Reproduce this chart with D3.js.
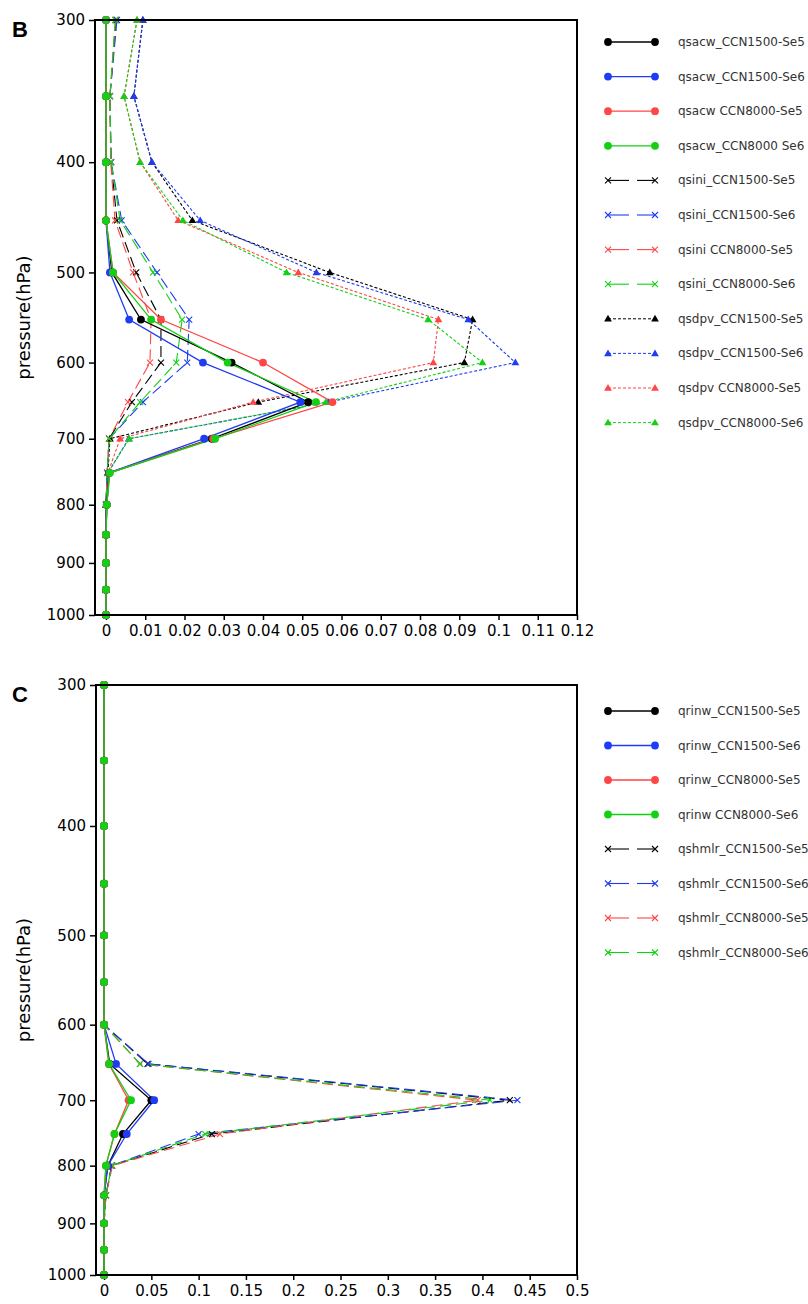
<!DOCTYPE html>
<html>
<head>
<meta charset="utf-8">
<script src="https://cdn.jsdelivr.net/npm/d3@7"></script>
<style>
body { margin: 0; background: #fff; }
svg { display: block; }
</style>
</head>
<body>
<div id="chart"></div>
<script>
var levels = [300, 350, 400, 450, 500, 550, 600, 650, 700, 750, 800, 850, 900, 950, 1000];
var pressureTicks = [300, 400, 500, 600, 700, 800, 900, 1000];

// panel B
var xTicksB = [0, 0.01, 0.02, 0.03, 0.04, 0.05, 0.06, 0.07, 0.08, 0.09, 0.1, 0.11, 0.12];
var qsacw_1500_Se5 = [0, 0, 0, 0, 0.0015, 0.0089, 0.032, 0.0515, 0.027, 0.0008, 0.0002, 0, 0, 0, 0];
var qsacw_1500_Se6 = [0, 0, 0, 0, 0.001, 0.0059, 0.0247, 0.0495, 0.025, 0.0008, 0.0002, 0, 0, 0, 0];
var qsacw_8000_Se5 = [0, 0, 0, 0, 0.0018, 0.014, 0.040, 0.0577, 0.0273, 0.0009, 0.0002, 0, 0, 0, 0];
var qsacw_8000_Se6 = [0, 0, 0, 0, 0.0018, 0.0115, 0.031, 0.0535, 0.0278, 0.001, 0.0002, 0, 0, 0, 0];
var qsini_1500_Se5 = [0.0026, 0.001, 0.0013, 0.0028, 0.0077, 0.014, 0.014, 0.0066, 0.0008, 0.0003, 0, 0, 0, 0, 0];
var qsini_1500_Se6 = [0.0028, 0.001, 0.0013, 0.004, 0.013, 0.0212, 0.0207, 0.0094, 0.0008, 0.0003, 0, 0, 0, 0, 0];
var qsini_8000_Se5 = [0.0024, 0.001, 0.0012, 0.0023, 0.0069, 0.0115, 0.0112, 0.0056, 0.0008, 0.0003, 0, 0, 0, 0, 0];
var qsini_8000_Se6 = [0.0024, 0.001, 0.0013, 0.0036, 0.012, 0.0194, 0.0179, 0.0087, 0.0008, 0.0003, 0, 0, 0, 0, 0];
var qsdpv_1500_Se5 = [0.0094, 0.0071, 0.0117, 0.022, 0.057, 0.0934, 0.0913, 0.0388, 0.001, 0.0005, 0, 0, 0, 0, 0];
var qsdpv_1500_Se6 = [0.0094, 0.0071, 0.0117, 0.024, 0.0536, 0.0923, 0.1043, 0.0567, 0.0058, 0.0005, 0, 0, 0, 0, 0];
var qsdpv_8000_Se5 = [0.0079, 0.0046, 0.0087, 0.0184, 0.049, 0.0847, 0.0834, 0.0375, 0.0036, 0.0005, 0, 0, 0, 0, 0];
var qsdpv_8000_Se6 = [0.0079, 0.0046, 0.0087, 0.0196, 0.046, 0.0821, 0.0959, 0.056, 0.0059, 0.0005, 0, 0, 0, 0, 0];

// panel C
var xTicksC = [0, 0.05, 0.1, 0.15, 0.2, 0.25, 0.3, 0.35, 0.4, 0.45, 0.5];
var qrinw_1500_Se5 = [0, 0, 0, 0, 0, 0, 0, 0.006, 0.05, 0.02, 0.004, 0, 0, 0, 0];
var qrinw_1500_Se6 = [0, 0, 0, 0, 0, 0, 0, 0.0127, 0.053, 0.024, 0.004, 0, 0, 0, 0];
var qrinw_8000_Se5 = [0, 0, 0, 0, 0, 0, 0, 0.005, 0.026, 0.011, 0.002, 0, 0, 0, 0];
var qrinw_8000_Se6 = [0, 0, 0, 0, 0, 0, 0, 0.0053, 0.0285, 0.011, 0.002, 0, 0, 0, 0];
var qshmlr_1500_Se5 = [0, 0, 0, 0, 0, 0, 0, 0.046, 0.429, 0.114, 0.008, 0.002, 0, 0, 0];
var qshmlr_1500_Se6 = [0, 0, 0, 0, 0, 0, 0, 0.047, 0.437, 0.10, 0.008, 0.002, 0, 0, 0];
var qshmlr_8000_Se5 = [0, 0, 0, 0, 0, 0, 0, 0.038, 0.395, 0.1226, 0.009, 0.002, 0, 0, 0];
var qshmlr_8000_Se6 = [0, 0, 0, 0, 0, 0, 0, 0.038, 0.408, 0.107, 0.008, 0.002, 0, 0, 0];

var black = "#000000", blue = "#1f3cf5", red = "#ff4545", green = "#12d012";

var svg = d3.select("#chart").append("svg")
	.attr("width", 808)
	.attr("height", 1304)
	.style("font-family", "'DejaVu Sans', sans-serif");

var seriesB = [
	{name: "qsacw_CCN1500-Se5", values: qsacw_1500_Se5, color: black, mark: "circle", dash: null},
	{name: "qsacw_CCN1500-Se6", values: qsacw_1500_Se6, color: blue, mark: "circle", dash: null},
	{name: "qsacw  CCN8000-Se5", values: qsacw_8000_Se5, color: red, mark: "circle", dash: null},
	{name: "qsacw_CCN8000 Se6", values: qsacw_8000_Se6, color: green, mark: "circle", dash: null},
	{name: "qsini_CCN1500-Se5", values: qsini_1500_Se5, color: black, mark: "cross", dash: "11,5"},
	{name: "qsini_CCN1500-Se6", values: qsini_1500_Se6, color: blue, mark: "cross", dash: "11,5"},
	{name: "qsini  CCN8000-Se5", values: qsini_8000_Se5, color: red, mark: "cross", dash: "11,5"},
	{name: "qsini_CCN8000-Se6", values: qsini_8000_Se6, color: green, mark: "cross", dash: "11,5"},
	{name: "qsdpv_CCN1500-Se5", values: qsdpv_1500_Se5, color: black, mark: "tri", dash: "3,2"},
	{name: "qsdpv_CCN1500-Se6", values: qsdpv_1500_Se6, color: blue, mark: "tri", dash: "3,2"},
	{name: "qsdpv  CCN8000-Se5", values: qsdpv_8000_Se5, color: red, mark: "tri", dash: "3,2"},
	{name: "qsdpv_CCN8000-Se6", values: qsdpv_8000_Se6, color: green, mark: "tri", dash: "3,2"}
];

var seriesC = [
	{name: "qrinw_CCN1500-Se5", values: qrinw_1500_Se5, color: black, mark: "circle", dash: null},
	{name: "qrinw_CCN1500-Se6", values: qrinw_1500_Se6, color: blue, mark: "circle", dash: null},
	{name: "qrinw_CCN8000-Se5", values: qrinw_8000_Se5, color: red, mark: "circle", dash: null},
	{name: "qrinw  CCN8000-Se6", values: qrinw_8000_Se6, color: green, mark: "circle", dash: null},
	{name: "qshmlr_CCN1500-Se5", values: qshmlr_1500_Se5, color: black, mark: "cross", dash: "11,5"},
	{name: "qshmlr_CCN1500-Se6", values: qshmlr_1500_Se6, color: blue, mark: "cross", dash: "11,5"},
	{name: "qshmlr_CCN8000-Se5", values: qshmlr_8000_Se5, color: red, mark: "cross", dash: "11,5"},
	{name: "qshmlr_CCN8000-Se6", values: qshmlr_8000_Se6, color: green, mark: "cross", dash: "11,5"}
];

drawPanel({letter: "B", left: 95, right: 577, top: 20, bottom: 615, xDomain: [-0.0028, 0.12],
	xTicks: xTicksB, series: seriesB, legendTop: 42, legendStep: 34.6});
drawPanel({letter: "C", left: 96, right: 577, top: 685, bottom: 1275, xDomain: [-0.0085, 0.5],
	xTicks: xTicksC, series: seriesC, legendTop: 711, legendStep: 34.5});

function drawMark(g, mark, color, x, y){
	if(mark === "circle"){
		g.append("circle").attr("cx", x).attr("cy", y).attr("r", 3.9).attr("fill", color);
	} else if(mark === "cross"){
		g.append("path")
			.attr("d", "M" + (x-3) + "," + (y-3) + "L" + (x+3) + "," + (y+3) +
				"M" + (x-3) + "," + (y+3) + "L" + (x+3) + "," + (y-3))
			.attr("stroke", color).attr("stroke-width", 1.1).attr("fill", "none");
	} else {
		g.append("path")
			.attr("d", d3.symbol(d3.symbolTriangle).size(26)())
			.attr("transform", "translate(" + x + "," + (y + 0.5) + ")")
			.attr("fill", color);
	}
}

function drawPanel(cfg){
	var x = d3.scaleLinear().domain(cfg.xDomain).range([cfg.left, cfg.right]);
	var y = d3.scaleLog().domain([300, 1000]).range([cfg.top, cfg.bottom]);

	var g = svg.append("g");

	// axes
	var yAxis = g.append("g")
		.attr("transform", "translate(" + cfg.left + ",0)")
		.call(d3.axisLeft(y).tickValues(pressureTicks).tickFormat(d3.format("d")).tickSize(6).tickPadding(4));
	var xAxis = g.append("g")
		.attr("transform", "translate(0," + cfg.bottom + ")")
		.call(d3.axisBottom(x).tickValues(cfg.xTicks).tickFormat(function(d){ return String(+d.toFixed(2)); }).tickSize(5).tickPadding(5));
	[yAxis, xAxis].forEach(function(a){
		a.select(".domain").remove();
		a.selectAll("line").attr("stroke", "#000").attr("stroke-width", 1.5);
		a.selectAll("text").attr("fill", "#000").style("font-size", "15px").style("font-family", "'DejaVu Sans', sans-serif");
	});

	g.append("text")
		.attr("transform", "translate(30," + ((cfg.top + cfg.bottom) / 2) + ") rotate(-90)")
		.attr("text-anchor", "middle")
		.style("font-size", "18px")
		.text("pressure(hPa)");

	g.append("text")
		.attr("x", 12).attr("y", cfg.top + 17)
		.style("font-family", "'Liberation Sans', Arial, sans-serif")
		.style("font-weight", "bold")
		.style("font-size", "22px")
		.text(cfg.letter);

	// series lines: dashed groups first, solid circle series last, legend order inside each group
	var line = d3.line()
		.x(function(d){ return x(d.v); })
		.y(function(d){ return y(d.p); });

	var rank = {tri: 0, cross: 1, circle: 2};
	var order = cfg.series.map(function(s, i){ return {s: s, i: i}; })
		.sort(function(a, b){ return (rank[a.s.mark] - rank[b.s.mark]) || (a.i - b.i); })
		.map(function(d){ return d.s; });

	var plot = g.append("g");
	order.forEach(function(s){
		var pts = s.values.map(function(v, i){ return {v: v, p: levels[i]}; });
		plot.append("path")
			.datum(pts)
			.attr("d", line)
			.attr("fill", "none")
			.attr("stroke", s.color)
			.attr("stroke-width", s.dash ? 1.1 : 1.3)
			.attr("stroke-dasharray", s.dash);
	});
	order.forEach(function(s){
		var mg = plot.append("g");
		s.values.forEach(function(v, i){
			drawMark(mg, s.mark, s.color, x(v), y(levels[i]));
		});
	});

	// frame
	g.append("rect")
		.attr("x", cfg.left).attr("y", cfg.top)
		.attr("width", cfg.right - cfg.left).attr("height", cfg.bottom - cfg.top)
		.attr("fill", "none").attr("stroke", "#000").attr("stroke-width", 2);

	// legend
	var lg = g.append("g");
	cfg.series.forEach(function(s, i){
		var ly = cfg.legendTop + i * cfg.legendStep;
		var row = lg.append("g");
		if(s.mark === "cross"){
			row.append("line").attr("x1", 608).attr("x2", 629).attr("y1", ly).attr("y2", ly)
				.attr("stroke", s.color).attr("stroke-width", 1.1);
			row.append("line").attr("x1", 637).attr("x2", 655).attr("y1", ly).attr("y2", ly)
				.attr("stroke", s.color).attr("stroke-width", 1.1);
		} else {
			row.append("line").attr("x1", 608).attr("x2", 655).attr("y1", ly).attr("y2", ly)
				.attr("stroke", s.color).attr("stroke-width", s.dash ? 1 : 1.3)
				.attr("stroke-dasharray", s.dash);
		}
		drawMark(row, s.mark, s.color, 608, ly);
		drawMark(row, s.mark, s.color, 655, ly);
		row.append("text")
			.attr("x", 678).attr("y", ly + 4)
			.attr("fill", "#333")
			.style("font-size", "12px")
			.text(s.name);
	});
}
</script>
</body>
</html>
